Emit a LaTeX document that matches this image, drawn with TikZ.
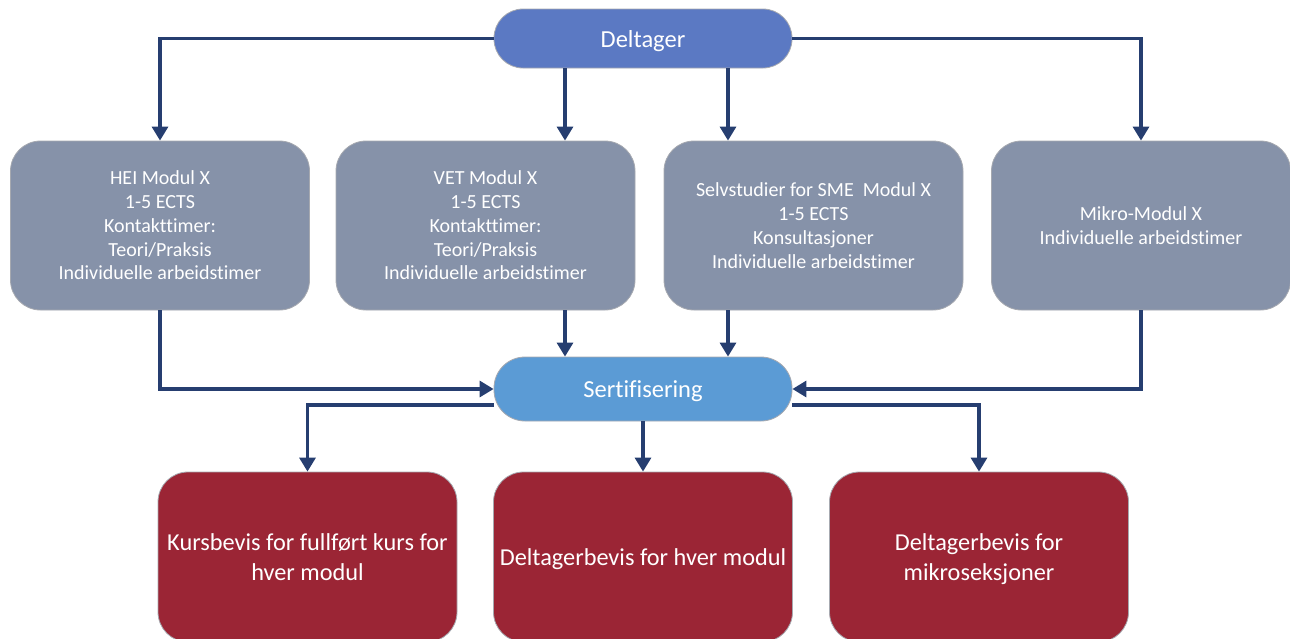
\documentclass[tikz,border=0pt]{standalone}
\usepackage{fontspec}
\setmainfont{Carlito}[Ligatures=NoCommon]
\usetikzlibrary{arrows.meta}
\definecolor{navy}{HTML}{263E70}
\definecolor{topc}{HTML}{5B79C3}
\definecolor{greyc}{HTML}{8692A9}
\definecolor{certc}{HTML}{5B9BD5}
\definecolor{redc}{HTML}{9B2535}
\definecolor{edgec}{HTML}{A6A9B0}
\tikzset{
  pill/.style={draw=edgec, line width=0.8pt, rounded corners=29pt, minimum width=298pt, minimum height=59pt, text=white, font=\fontsize{24.5}{28}\selectfont, inner sep=0pt, text depth=0pt},
  grey/.style={draw=edgec, line width=0.8pt, fill=greyc, rounded corners=30pt, minimum width=299pt, minimum height=169pt, text=white, align=center, font=\fontsize{20}{23.8}\selectfont, inner sep=0pt},
  redbox/.style={draw=edgec, line width=0.8pt, fill=redc, rounded corners=30pt, minimum width=299pt, minimum height=170pt, text=white, align=center, font=\fontsize{24.3}{29.5}\selectfont, inner sep=0pt, text depth=0pt},
  conn/.style={draw=navy, line width=3.2pt, -{Triangle[length=14pt,width=16pt]}}
}
\begin{document}
\begin{tikzpicture}[x=1pt,y=-1pt]
\useasboundingbox (0,0) rectangle (1290,638);
\node[pill, fill=topc] (D) at (643,38.5) {Deltager};
\node[grey] (B1) at (160,225.5) {HEI Modul X\\1-5 ECTS\\Kontakttimer:\\Teori/Praksis\\Individuelle arbeidstimer};
\node[grey] (B2) at (485.5,225.5) {VET Modul X\\1-5 ECTS\\Kontakttimer:\\Teori/Praksis\\Individuelle arbeidstimer};
\node[grey] (B3) at (813.5,225.5) {Selvstudier for SME\ \ Modul X\\1-5 ECTS\\Konsultasjoner\\Individuelle arbeidstimer};
\node[grey] (B4) at (1141,225.5) {Mikro-Modul X\\Individuelle arbeidstimer};
\node[pill, fill=certc, minimum height=64pt, rounded corners=31pt] (S) at (643,389) {Sertifisering};
\node[redbox] (R1) at (307.5,557) {Kursbevis for fullført kurs for\\hver modul};
\node[redbox] (R2) at (643,557) {Deltagerbevis for hver modul};
\node[redbox] (R3) at (979,557) {Deltagerbevis for\\mikroseksjoner};
% top connectors
\draw[conn] (D.west) -| (B1.north);
\draw[conn] (D.east) -| (B4.north);
\draw[conn] (D.south -| 565,0) -- (B2.north -| 565,0);
\draw[conn] (D.south -| 728,0) -- (B3.north -| 728,0);
% to certification
\draw[conn] (B1.south) |- (S.west);
\draw[conn] (B4.south) |- (S.east);
\draw[conn] (B2.south -| 565,0) -- (S.north -| 565,0);
\draw[conn] (B3.south -| 728,0) -- (S.north -| 728,0);
% to certificates
\coordinate (SL) at (494,405);
\coordinate (SR) at (792,405);
\draw[conn] (SL) -| (R1.north);
\draw[conn] (SR) -| (R3.north);
\draw[conn] (S.south) -- (R2.north);
\end{tikzpicture}
\end{document}
